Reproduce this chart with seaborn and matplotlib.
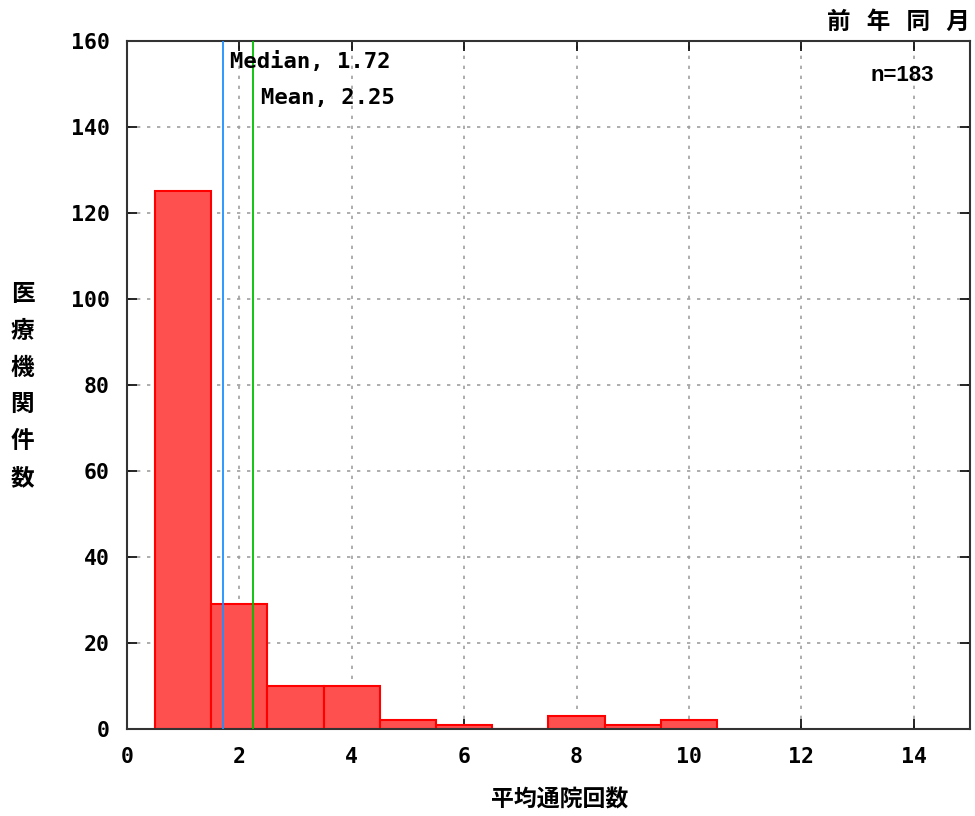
import numpy as np
import pandas as pd
import matplotlib
matplotlib.use("Agg")
import matplotlib.pyplot as plt
import seaborn as sns

# Data
bin_centers = [1, 2, 3, 4, 5, 6, 7, 8, 9, 10]
counts = [125, 29, 10, 10, 2, 1, 0, 3, 1, 2]
bin_edges = [0.5, 1.5, 2.5, 3.5, 4.5, 5.5, 6.5, 7.5, 8.5, 9.5, 10.5]
median_val = 1.72
mean_val = 2.25
n_total = 183
x_ticks = [0, 2, 4, 6, 8, 10, 12, 14]
y_ticks = [0, 20, 40, 60, 80, 100, 120, 140, 160]

sns.set_theme(style="white")
plt.rcParams['font.family'] = ['Noto Sans CJK JP', 'DejaVu Sans']
plt.rcParams['text.color'] = 'black'
plt.rcParams['xtick.color'] = 'black'
plt.rcParams['ytick.color'] = 'black'

df = pd.DataFrame({"x": bin_centers, "w": counts})

fig = plt.figure(figsize=(9.75, 8.16), dpi=100)
ax = fig.add_axes([0.130, 0.1066, 0.865, 0.8432])

sns.histplot(data=df, x="x", weights="w", bins=bin_edges, ax=ax,
             color="#ff5050", edgecolor="#ff0000", linewidth=1.5, alpha=1.0)

ax.axvline(median_val, color="#1e90ff", lw=1.3, zorder=3)
ax.axvline(mean_val, color="#00c000", lw=1.3, zorder=3)

ax.set_xlim(0, 15)
ax.set_ylim(0, 160)
ax.set_xticks(x_ticks)
ax.set_yticks(y_ticks)
mono = dict(family="DejaVu Sans Mono", weight="bold", size=15.5)
ax.set_xticklabels([str(t) for t in x_ticks], fontdict=mono)
ax.set_yticklabels([str(t) for t in y_ticks], fontdict=mono)
ax.tick_params(axis="both", direction="in", length=7, width=1.2, color="black",
               top=True, right=True, bottom=True, left=True)
ax.tick_params(axis="y", pad=12)
ax.tick_params(axis="x", pad=13)
ax.grid(True, color="#a0a0a0", linestyle=(0, (2, 4)), linewidth=1.2)
ax.set_axisbelow(True)
for s in ax.spines.values():
    s.set_color("#333333")
    s.set_linewidth(1.5)

ax.set_xlabel("")
ax.set_ylabel("")

ax.text(1.84, 155.3, f"Median, {median_val:.2f}", family="DejaVu Sans Mono",
        weight="bold", size=16, va="center", ha="left")
ax.text(2.38, 146.7, f"Mean, {mean_val:.2f}", family="DejaVu Sans Mono",
        weight="bold", size=16, va="center", ha="left")
ax.text(13.79, 152, f"n={n_total}", weight="bold", size=16, va="center", ha="center",
        family=["Liberation Sans", "DejaVu Sans"])

fig.text(0.995, 0.973, "前   年   同   月", ha="right", va="center", weight="bold", size=17)
fig.text(0.574, 0.019, "平均通院回数", ha="center", va="center", weight="bold", size=16.5)
fig.text(0.023, 0.527, "医\n療\n機\n関\n件\n数", ha="center", va="center",
         weight="bold", size=17, linespacing=1.68)

fig.savefig("out.png", dpi=100)
